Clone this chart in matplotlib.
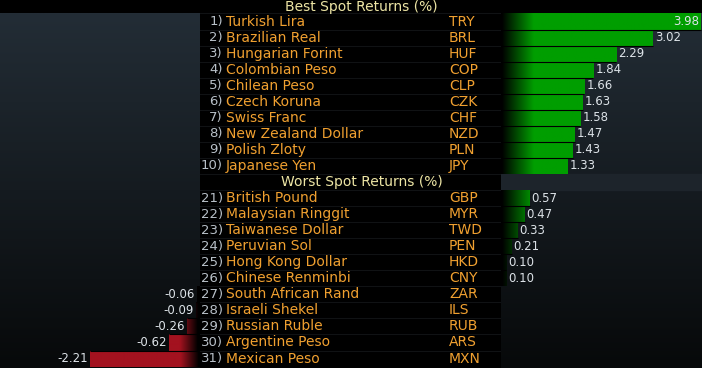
import numpy as np
import matplotlib.pyplot as plt
from matplotlib.colors import to_rgb

# Data
BEST_RANKS  = [1, 2, 3, 4, 5, 6, 7, 8, 9, 10]
BEST_NAMES  = ['Turkish Lira', 'Brazilian Real', 'Hungarian Forint', 'Colombian Peso',
               'Chilean Peso', 'Czech Koruna', 'Swiss Franc', 'New Zealand Dollar',
               'Polish Zloty', 'Japanese Yen']
BEST_CODES  = ['TRY', 'BRL', 'HUF', 'COP', 'CLP', 'CZK', 'CHF', 'NZD', 'PLN', 'JPY']
BEST_VALUES = [3.98, 3.02, 2.29, 1.84, 1.66, 1.63, 1.58, 1.47, 1.43, 1.33]

WORST_RANKS  = [21, 22, 23, 24, 25, 26, 27, 28, 29, 30, 31]
WORST_NAMES  = ['British Pound', 'Malaysian Ringgit', 'Taiwanese Dollar', 'Peruvian Sol',
                'Hong Kong Dollar', 'Chinese Renminbi', 'South African Rand',
                'Israeli Shekel', 'Russian Ruble', 'Argentine Peso', 'Mexican Peso']
WORST_CODES  = ['GBP', 'MYR', 'TWD', 'PEN', 'HKD', 'CNY', 'ZAR', 'ILS', 'RUB', 'ARS', 'MXN']
WORST_VALUES = [0.57, 0.47, 0.33, 0.21, 0.10, 0.10, -0.06, -0.09, -0.26, -0.62, -2.21]

BEST_TITLE  = 'Best Spot Returns (%)'
WORST_TITLE = 'Worst Spot Returns (%)'

# Style
GREEN      = '#009e00'
RED        = '#a3121f'
ORANGE     = '#f0a030'
TITLE_COL  = '#ece4a4'
RANK_COL   = '#b8c0c8'
VALUE_COL  = '#dde3e8'
BG_TOP     = '#232d36'
BG_BOTTOM  = '#07090a'
NARROW     = ['Liberation Sans Narrow', 'DejaVu Sans']

# Row layout: 0 = best title, 1-10 best, 11 = worst title, 12-22 worst
best_rows = list(range(1, 11))
worst_rows = list(range(12, 23))
all_rows = best_rows + worst_rows
all_values = BEST_VALUES + WORST_VALUES
Y_LIM = (22.59, -0.34)
X_MAX = 4.0

fig = plt.figure(figsize=(7.02, 3.68), dpi=100, facecolor='black')
ax_l = fig.add_axes([0, 0, 200 / 702, 1])
ax_c = fig.add_axes([200 / 702, 0, 301 / 702, 1])
ax_r = fig.add_axes([501 / 702, 0, 201 / 702, 1])

for ax in (ax_l, ax_c, ax_r):
    ax.set_facecolor('black')
    ax.axis('off')


# Vertical background gradient for a bar panel
def panel_background(ax, x0, x1):
    top = np.array(to_rgb(BG_TOP))
    bot = np.array(to_rgb(BG_BOTTOM))
    t = np.linspace(0, 1, 256)[:, None]
    img = (top * (1 - t) + bot * t)[:, None, :]
    ax.imshow(img, extent=(x0, x1, Y_LIM[0], 0.53), aspect='auto', zorder=0)


panel_background(ax_l, -X_MAX, 0)
panel_background(ax_r, 0, X_MAX)
ax_r.axhspan(10.53, 11.5, color='#1d242b', zorder=0.5)


# Bars with a fade to black next to the centre panel
def faded_bars(ax, rows, values, color, ramp, xlim):
    bars = ax.barh(rows, values, height=1.0, color=color, zorder=1)
    xs = np.linspace(xlim[0], xlim[1], 400)
    fade = ramp(xs)
    rgb = np.array(to_rgb(color))
    img = (fade[:, None] * rgb)[None, :, :]
    for patch in bars:
        y0 = patch.get_y()
        y1 = y0 + patch.get_height()
        im = ax.imshow(img, extent=(xs[0], xs[-1], y1, y0), aspect='auto', zorder=2)
        im.set_clip_path(patch)
    # dark line between neighbouring bars
    for i in range(len(rows) - 1):
        if rows[i + 1] == rows[i] + 1:
            reach = max(abs(values[i]), abs(values[i + 1]))
            x0, x1 = (0, reach) if values[i] > 0 else (-reach, 0)
            ax.hlines(rows[i] + 0.5, x0, x1, color='black', lw=0.8, zorder=3)
    return bars


pos = [(r, v) for r, v in zip(all_rows, all_values) if v > 0]
neg = [(r, v) for r, v in zip(all_rows, all_values) if v < 0]
faded_bars(ax_r, [p[0] for p in pos], [p[1] for p in pos], GREEN,
           lambda x: np.clip((x - 0.02) / 0.63, 0, 1), (0, X_MAX))
faded_bars(ax_l, [n[0] for n in neg], [n[1] for n in neg], RED,
           lambda x: np.clip((-x - 0.04) / 0.36, 0, 1), (-X_MAX, 0))

# Faint row separators in the centre panel
for b in range(1, 23):
    ax_c.axhline(b - 0.5, color='#101214', lw=0.8, zorder=1)

# Value labels
for r, v in pos:
    if v + 0.45 > X_MAX:
        ax_r.text(X_MAX - 0.06, r, '%.2f' % v, ha='right', va='center',
                  color=VALUE_COL, fontsize=8.5, family=NARROW, zorder=4)
    else:
        ax_r.text(v + 0.04, r, '%.2f' % v, ha='left', va='center',
                  color=VALUE_COL, fontsize=8.5, family=NARROW, zorder=4)
for r, v in neg:
    ax_l.text(v - 0.04, r, '%.2f' % v, ha='right', va='center',
              color=VALUE_COL, fontsize=8.5, family=NARROW, zorder=4)

# Centre text table
ax_c.text(161, 0.1, BEST_TITLE, ha='center', va='center', color=TITLE_COL, fontsize=10)
ax_c.text(162, 11, WORST_TITLE, ha='center', va='center', color=TITLE_COL, fontsize=10)
ranks = BEST_RANKS + WORST_RANKS
names = BEST_NAMES + WORST_NAMES
codes = BEST_CODES + WORST_CODES
for r, rank, name, code in zip(all_rows, ranks, names, codes):
    ax_c.text(23, r, '%d)' % rank, ha='right', va='center', color=RANK_COL,
              fontsize=9.5, family=NARROW)
    ax_c.text(26, r, name, ha='left', va='center', color=ORANGE, fontsize=10)
    ax_c.text(249, r, code, ha='left', va='center', color=ORANGE, fontsize=10)

# Limits last, so imshow does not change them
for ax in (ax_l, ax_c, ax_r):
    ax.set_ylim(*Y_LIM)
ax_l.set_xlim(-X_MAX, 0)
ax_r.set_xlim(0, X_MAX)
ax_c.set_xlim(0, 301)

fig.savefig('out.png', dpi=100, facecolor='black')
